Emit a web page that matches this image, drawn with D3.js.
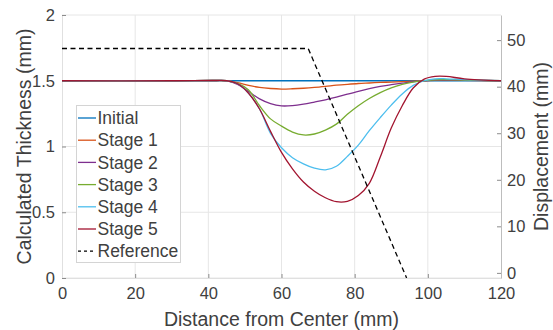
<!doctype html>
<html lang="en">
  <head>
    <meta charset="utf-8">
    <title>Calculated Thickness and Displacement</title>
    <script src="https://d3js.org/d3.v7.min.js"></script>
    <style>
      body { margin: 0; background: #fff; }
      text { font-family: "Liberation Sans", Arial, sans-serif; fill: #404040; }
    </style>
  </head>
  <body>
    <div id="container"></div>
  </body>
  <script>
    // Data
    const distance = [0, 30, 42, 45, 48, 51, 54, 57, 60, 63, 66, 69, 72, 75, 78, 81, 84, 87, 90, 93, 96, 99, 102, 105, 110, 120]
    const initial = [1.5, 1.5, 1.5, 1.5, 1.5, 1.5, 1.5, 1.5, 1.5, 1.5, 1.5, 1.5, 1.5, 1.5, 1.5, 1.5, 1.5, 1.5, 1.5, 1.5, 1.5, 1.5, 1.5, 1.5, 1.5, 1.5]
    const stage1 = [1.5, 1.5, 1.502, 1.5, 1.486, 1.465, 1.449, 1.441, 1.437, 1.439, 1.443, 1.449, 1.457, 1.466, 1.473, 1.479, 1.483, 1.487, 1.49, 1.494, 1.497, 1.5, 1.503, 1.504, 1.503, 1.5]
    const stage2 = [1.5, 1.5, 1.502, 1.5, 1.472, 1.418, 1.362, 1.326, 1.309, 1.311, 1.322, 1.338, 1.355, 1.375, 1.398, 1.42, 1.44, 1.457, 1.47, 1.482, 1.493, 1.5, 1.505, 1.506, 1.504, 1.5]
    const stage3 = [1.5, 1.5, 1.502, 1.5, 1.48, 1.43, 1.31, 1.21, 1.155, 1.11, 1.088, 1.095, 1.125, 1.17, 1.245, 1.31, 1.365, 1.41, 1.446, 1.472, 1.49, 1.5, 1.507, 1.508, 1.505, 1.5]
    const stage4 = [1.5, 1.5, 1.502, 1.5, 1.477, 1.405, 1.285, 1.1, 0.99, 0.915, 0.868, 0.835, 0.822, 0.85, 0.925, 1.01, 1.12, 1.22, 1.315, 1.4, 1.465, 1.5, 1.515, 1.515, 1.508, 1.5]
    const stage5 = [1.5, 1.5, 1.502, 1.5, 1.477, 1.405, 1.285, 1.115, 0.955, 0.83, 0.73, 0.66, 0.61, 0.58, 0.583, 0.627, 0.72, 0.92, 1.14, 1.31, 1.445, 1.512, 1.533, 1.533, 1.515, 1.5]
    const referenceDistance = [0, 67.3, 94.2]
    const referenceDisplacement = [48.2, 48.2, -1.1]

    const seriesNames = ["Initial", "Stage 1", "Stage 2", "Stage 3", "Stage 4", "Stage 5"]
    const seriesValues = [initial, stage1, stage2, stage3, stage4, stage5]
    const seriesColors = ["#0072BD", "#D95319", "#7E2F8E", "#77AC30", "#4DBEEE", "#A2142F"]

    const xTicks = [0, 20, 40, 60, 80, 100, 120]
    const leftTicks = [0, 0.5, 1, 1.5, 2]
    const rightTicks = [0, 10, 20, 30, 40, 50]

    const width = 553
    const height = 330
    const margin = {top: 15, right: 52, bottom: 52, left: 62}

    const svg = d3.select("#container")
      .append("svg")
        .attr("width", width)
        .attr("height", height)

    const x = d3.scaleLinear().domain([0, 120]).range([margin.left, width - margin.right])
    const yLeft = d3.scaleLinear().domain([0, 2]).range([height - margin.bottom, margin.top])
    const yRight = d3.scaleLinear().domain([-1.1, 55.4]).range([height - margin.bottom, margin.top])

    svg.append("clipPath").attr("id", "plotClip")
      .append("rect")
        .attr("x", margin.left).attr("y", margin.top)
        .attr("width", x.range()[1] - margin.left)
        .attr("height", yLeft.range()[0] - margin.top)

    // grid
    svg.append("g")
      .selectAll("line")
      .data(xTicks.slice(1, -1))
      .join("line")
        .attr("x1", d => x(d)).attr("x2", d => x(d))
        .attr("y1", margin.top).attr("y2", yLeft(0))
        .attr("stroke", "#e6e6e6")
    svg.append("g")
      .selectAll("line")
      .data(leftTicks)
      .join("line")
        .attr("x1", margin.left).attr("x2", x(120))
        .attr("y1", d => yLeft(d)).attr("y2", d => yLeft(d))
        .attr("stroke", "#e6e6e6")

    // axes
    const xAxis = svg.append("g")
      .attr("transform", `translate(0,${yLeft(0)})`)
      .call(d3.axisBottom(x).tickValues(xTicks).tickSizeInner(-4).tickSizeOuter(0).tickPadding(9))
    const leftAxis = svg.append("g")
      .attr("transform", `translate(${margin.left},0)`)
      .call(d3.axisLeft(yLeft).tickValues(leftTicks).tickFormat(d3.format("~g")).tickSizeInner(-4).tickSizeOuter(0).tickPadding(7))
    const rightAxis = svg.append("g")
      .attr("transform", `translate(${x(120)},0)`)
      .call(d3.axisRight(yRight).tickValues(rightTicks).tickSizeInner(-4).tickSizeOuter(0).tickPadding(6))

    xAxis.select(".domain").attr("stroke", "#e0e0e0")
    leftAxis.select(".domain").attr("stroke", "#e0e0e0")
    rightAxis.select(".domain").attr("stroke", "#bdbdbd")
    svg.selectAll(".tick line").attr("stroke", "#8c8c8c")
    svg.selectAll(".tick text")
      .attr("font-size", 16.5)
      .attr("font-family", "Liberation Sans, Arial, sans-serif")
      .attr("fill", "#404040")
    xAxis.selectAll(".tick text").attr("dy", "0.71em")

    // lines
    const plot = svg.append("g").attr("clip-path", "url(#plotClip)")
    const thicknessLine = d3.line()
      .x(d => x(d[0]))
      .y(d => yLeft(d[1]))
      .curve(d3.curveCatmullRom.alpha(0.5))

    seriesValues.forEach((values, i) => {
      plot.append("path")
        .datum(distance.map((dist, j) => [dist, values[j]]))
        .attr("d", thicknessLine)
        .attr("fill", "none")
        .attr("stroke", seriesColors[i])
        .attr("stroke-width", 1.3)
    })

    const referenceLine = d3.line()
      .x(d => x(d[0]))
      .y(d => yRight(d[1]))
    plot.append("path")
      .datum(referenceDistance.map((dist, j) => [dist, referenceDisplacement[j]]))
      .attr("d", referenceLine)
      .attr("fill", "none")
      .attr("stroke", "#000")
      .attr("stroke-width", 1.3)
      .attr("stroke-dasharray", "5,3.5")

    // axis titles
    svg.append("text")
      .attr("transform", `translate(${x(60)},326)`)
      .attr("text-anchor", "middle")
      .attr("font-size", 19.5)
      .text("Distance from Center (mm)")
    svg.append("text")
      .attr("transform", `translate(31,${yLeft(1)}) rotate(-90)`)
      .attr("text-anchor", "middle")
      .attr("font-size", 19.5)
      .text("Calculated Thickness (mm)")
    svg.append("text")
      .attr("transform", `translate(548,${yLeft(1)}) rotate(-90)`)
      .attr("text-anchor", "middle")
      .attr("font-size", 19.5)
      .text("Displacement (mm)")

    // legend
    const legend = svg.append("g")
    legend.append("rect")
      .attr("x", 76.5).attr("y", 105.5)
      .attr("width", 104).attr("height", 157)
      .attr("fill", "#fff")
      .attr("stroke", "#d4d4d4")

    const legendItems = seriesNames.map((name, i) => ({name: name, color: seriesColors[i], dash: null}))
    legendItems.push({name: "Reference", color: "#000", dash: "3,3"})

    legendItems.forEach((item, i) => {
      const rowY = 118 + i * 22.2
      legend.append("line")
        .attr("x1", 78).attr("x2", 96)
        .attr("y1", rowY).attr("y2", rowY)
        .attr("stroke", item.color)
        .attr("stroke-width", 1.3)
        .attr("stroke-dasharray", item.dash)
      legend.append("text")
        .attr("x", 97.5).attr("y", rowY)
        .attr("dy", "0.35em")
        .attr("font-size", 17.5)
        .text(item.name)
    })
  </script>
</html>
